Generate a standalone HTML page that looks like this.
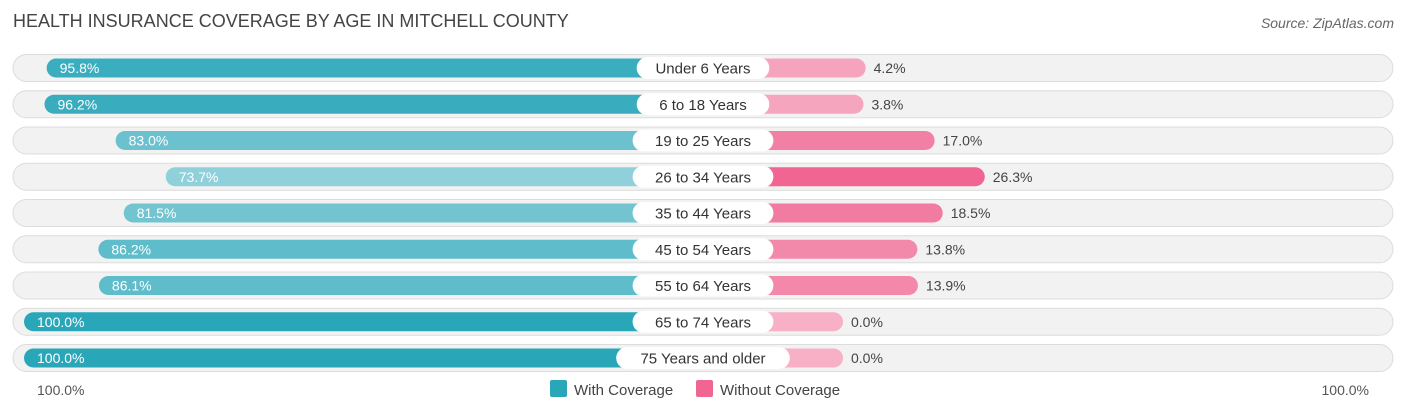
<!DOCTYPE html>
<html><head><meta charset="utf-8"><style>
body{margin:0;width:1406px;height:414px;background:#fff;font-family:"Liberation Sans",sans-serif;overflow:hidden;position:relative}
.t{position:absolute;white-space:nowrap}
</style></head><body>
<div class="t" style="left:13px;top:11px;font-size:18px;color:#444">HEALTH INSURANCE COVERAGE BY AGE IN MITCHELL COUNTY</div>
<div class="t" style="right:12px;top:15px;font-size:14px;color:#666;font-style:italic">Source: ZipAtlas.com</div>
<svg id="chart" width="1406" height="414" style="position:absolute;left:0;top:0;font-family:'Liberation Sans',sans-serif"></svg>
<script>
const categories=["Under 6 Years","6 to 18 Years","19 to 25 Years","26 to 34 Years","35 to 44 Years","45 to 54 Years","55 to 64 Years","65 to 74 Years","75 Years and older"];
const withCov=[95.8,96.2,83.0,73.7,81.5,86.2,86.1,100.0,100.0];
const withoutCov=[4.2,3.8,17.0,26.3,18.5,13.8,13.9,0.0,0.0];
const axisLabels=["100.0%","100.0%"];
const NS="http://www.w3.org/2000/svg";
const svg=document.getElementById('chart');
const C=703,OFF=140,S=539,Y0=68,DY=36.25;
function xl(v){return C-OFF-v/100*S;}
function xr(v){return C+OFF+v/100*S;}
function yc(i){return Y0+i*DY;}
function mix(a,b,t){return 'rgb('+a.map((x,k)=>Math.round(x+(b[k]-x)*t)).join(',')+')';}
const wMin=Math.min(...withCov),wMax=Math.max(...withCov),oMin=Math.min(...withoutCov),oMax=Math.max(...withoutCov);
function mk(tag,attrs,parent){const e=document.createElementNS(NS,tag);for(const k in attrs)e.setAttribute(k,attrs[k]);(parent||svg).appendChild(e);return e;}
categories.forEach((c,i)=>{
  const y=yc(i);
  const g=mk('g',{});
  
  
  const tr=mk('rect',{x:13,y:y-13.5,width:1380,height:27,rx:13.5,fill:'#f2f2f2',stroke:'#dcdcdc','stroke-width':1},g);
  
  
  const tw=(withCov[i]-wMin)/((wMax-wMin)||1);
  const lb=mk('rect',{x:xl(withCov[i]),y:y-9.5,width:C-xl(withCov[i]),height:19,rx:9.5,fill:mix([143,208,218],[42,166,185],tw)},g);
  
  
  const to=(withoutCov[i]-oMin)/((oMax-oMin)||1);
  const rb=mk('rect',{x:C,y:y-9.5,width:xr(withoutCov[i])-C,height:19,rx:9.5,fill:mix([247,176,198],[240,101,145],to)},g);
  
  
  const lw=c.length*8.2+26;
  const pill=mk('rect',{x:C-lw/2,y:y-11,width:lw,height:22,rx:11,fill:'#fff'},g);
  
  
  const lt=mk('text',{x:C,y:y+5.5,'text-anchor':'middle','font-size':15,fill:'#333'},g);
  lt.textContent=c;
  
  
  const wv=mk('text',{x:xl(withCov[i])+13,y:y+5,'font-size':14,fill:'#fff'},g);
  wv.textContent=withCov[i].toFixed(1)+'%';
  
  
  const ov=mk('text',{x:xr(withoutCov[i])+8,y:y+5,'font-size':14,fill:'#444'},g);
  ov.textContent=withoutCov[i].toFixed(1)+'%';
  
  
});
const a1=mk('text',{x:37,y:395,'font-size':14,fill:'#555'});a1.textContent=axisLabels[0];


const a2=mk('text',{x:1369,y:395,'font-size':14,fill:'#555','text-anchor':'end'});a2.textContent=axisLabels[1];


const s1=mk('rect',{x:550,y:380,width:17,height:17,rx:2,fill:'#2aa6b9'});


const l1=mk('text',{x:574,y:395,'font-size':15,fill:'#444'});l1.textContent='With Coverage';


const s2=mk('rect',{x:696,y:380,width:17,height:17,rx:2,fill:'#f06591'});


const l2=mk('text',{x:720,y:395,'font-size':15,fill:'#444'});l2.textContent='Without Coverage';


</script>
</body></html>
